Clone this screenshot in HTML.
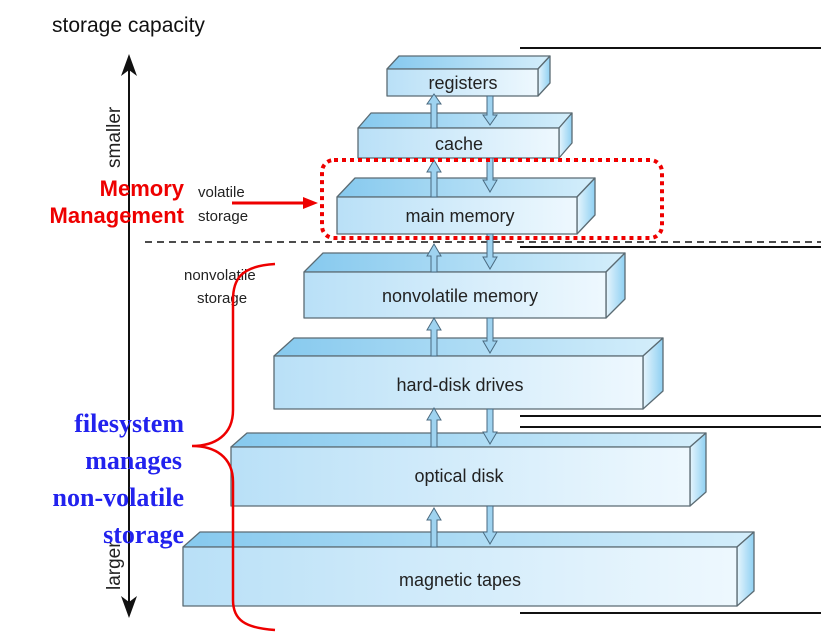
<!DOCTYPE html>
<html><head><meta charset="utf-8"><style>
body{margin:0;background:#fff}
svg{display:block}
</style></head><body>
<svg width="821" height="640" viewBox="0 0 821 640" xmlns="http://www.w3.org/2000/svg" font-family="Liberation Sans, sans-serif">
<defs>
<linearGradient id="g" x1="0" x2="1" y1="0" y2="0"><stop offset="0" stop-color="#b9e0f7"/><stop offset="1" stop-color="#eef8fe"/></linearGradient>
<linearGradient id="t" x1="0" x2="1" y1="0" y2="0"><stop offset="0" stop-color="#86c9ee"/><stop offset="1" stop-color="#d4eefb"/></linearGradient>
<linearGradient id="s" x1="0" x2="1" y1="0" y2="0"><stop offset="0" stop-color="#e6f5fd"/><stop offset="1" stop-color="#8fd0f2"/></linearGradient>
</defs>
<text x="52" y="32" font-size="21" fill="#111">storage capacity</text>
<line x1="129" y1="62" x2="129" y2="610" stroke="#111" stroke-width="2"/>
<path d="M121,76 L129,54 L137,76 L129,70Z" fill="#111"/>
<path d="M121,596 L129,618 L137,596 L129,602Z" fill="#111"/>
<text transform="translate(120,168) rotate(-90)" font-size="19" fill="#222">smaller</text>
<text transform="translate(120,590) rotate(-90)" font-size="19" fill="#222">larger</text>
<g stroke="#111" stroke-width="2">
<line x1="520" y1="48" x2="821" y2="48"/>
<line x1="520" y1="247" x2="821" y2="247"/>
<line x1="520" y1="416" x2="821" y2="416"/>
<line x1="520" y1="427" x2="821" y2="427"/>
<line x1="520" y1="613" x2="821" y2="613"/>
</g>
<line x1="145" y1="242" x2="821" y2="242" stroke="#111" stroke-width="1.5" stroke-dasharray="7,5"/>
<g stroke="#5b6b73" stroke-width="1.3" stroke-linejoin="round">
<path d="M387,69 L399,56 L550,56 L538,69Z" fill="url(#t)"/><path d="M538,69 L550,56 L550,83 L538,96Z" fill="url(#s)"/><rect x="387" y="69" width="151" height="27" fill="url(#g)"/>
<path d="M358,128 L371,113 L572,113 L559,128Z" fill="url(#t)"/><path d="M559,128 L572,113 L572,143 L559,158Z" fill="url(#s)"/><rect x="358" y="128" width="201" height="30" fill="url(#g)"/>
<path d="M337,197 L355,178 L595,178 L577,197Z" fill="url(#t)"/><path d="M577,197 L595,178 L595,215 L577,234Z" fill="url(#s)"/><rect x="337" y="197" width="240" height="37" fill="url(#g)"/>
<path d="M304,272 L323,253 L625,253 L606,272Z" fill="url(#t)"/><path d="M606,272 L625,253 L625,299 L606,318Z" fill="url(#s)"/><rect x="304" y="272" width="302" height="46" fill="url(#g)"/>
<path d="M274,356 L294,338 L663,338 L643,356Z" fill="url(#t)"/><path d="M643,356 L663,338 L663,391 L643,409Z" fill="url(#s)"/><rect x="274" y="356" width="369" height="53" fill="url(#g)"/>
<path d="M231,447 L247,433 L706,433 L690,447Z" fill="url(#t)"/><path d="M690,447 L706,433 L706,492 L690,506Z" fill="url(#s)"/><rect x="231" y="447" width="459" height="59" fill="url(#g)"/>
<path d="M183,547 L200,532 L754,532 L737,547Z" fill="url(#t)"/><path d="M737,547 L754,532 L754,591 L737,606Z" fill="url(#s)"/><rect x="183" y="547" width="554" height="59" fill="url(#g)"/>
</g>
<g fill="#9fd3f0" stroke="#4a6a80" stroke-width="1">
<path d="M431,128 V104 H427 L434,94 L441,104 H437 V128Z"/>
<path d="M487,96 V115 H483 L490,125 L497,115 H493 V96Z"/>
<path d="M431,197 V172 H427 L434,160 L441,172 H437 V197Z"/>
<path d="M487,158 V180 H483 L490,192 L497,180 H493 V158Z"/>
<path d="M431,272 V256 H427 L434,244 L441,256 H437 V272Z"/>
<path d="M487,234 V257 H483 L490,269 L497,257 H493 V234Z"/>
<path d="M431,356 V330 H427 L434,318 L441,330 H437 V356Z"/>
<path d="M487,318 V341 H483 L490,353 L497,341 H493 V318Z"/>
<path d="M431,447 V420 H427 L434,408 L441,420 H437 V447Z"/>
<path d="M487,409 V432 H483 L490,444 L497,432 H493 V409Z"/>
<path d="M431,547 V520 H427 L434,508 L441,520 H437 V547Z"/>
<path d="M487,506 V532 H483 L490,544 L497,532 H493 V506Z"/>
</g>
<g font-size="18" fill="#222" text-anchor="middle">
<text x="463" y="89">registers</text>
<text x="459" y="150">cache</text>
<text x="460" y="222">main memory</text>
<text x="460" y="302">nonvolatile memory</text>
<text x="460" y="391">hard-disk drives</text>
<text x="459" y="482">optical disk</text>
<text x="460" y="586">magnetic tapes</text>
</g>
<g font-size="15" fill="#222">
<text x="198" y="197">volatile</text>
<text x="198" y="221">storage</text>
<text x="184" y="280">nonvolatile</text>
<text x="197" y="303">storage</text>
</g>
<rect x="322" y="160" width="340" height="78" rx="12" fill="none" stroke="#e00" stroke-width="4" stroke-dasharray="4,4"/>
<line x1="232" y1="203" x2="305" y2="203" stroke="#e00" stroke-width="3"/>
<path d="M303,197 L318,203 L303,209Z" fill="#e00"/>
<g font-size="22" font-weight="bold" fill="#e00" text-anchor="end">
<text x="184" y="196">Memory</text>
<text x="184" y="223">Management</text>
</g>
<path d="M275,264 C240,266 233,280 233,300 L233,410 C233,435 215,446 192,446 C215,446 233,457 233,482 L233,600 C233,620 245,628 275,630" fill="none" stroke="#e00" stroke-width="2.5"/>
<g font-family="Liberation Serif, serif" font-size="26" font-weight="bold" fill="#2222ee" text-anchor="end">
<text x="184" y="432">filesystem</text>
<text x="182" y="469">manages</text>
<text x="184" y="506">non-volatile</text>
<text x="184" y="543">storage</text>
</g>
</svg>
</body></html>
